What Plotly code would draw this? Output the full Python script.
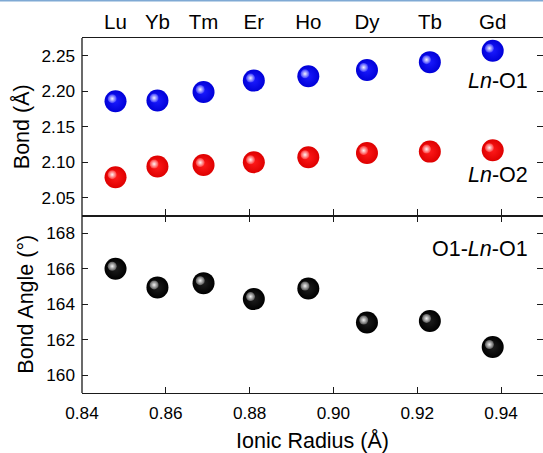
import plotly.graph_objects as go

# ---- data ----
elements = ["Lu", "Yb", "Tm", "Er", "Ho", "Dy", "Tb", "Gd"]
ionic_radius = [0.848, 0.858, 0.869, 0.881, 0.894, 0.908, 0.923, 0.938]
bond_ln_o1 = [2.186, 2.187, 2.199, 2.215, 2.221, 2.230, 2.241, 2.257]
bond_ln_o2 = [2.079, 2.094, 2.096, 2.100, 2.107, 2.113, 2.115, 2.117]
angle_o1_ln_o1 = [166.0, 164.95, 165.19, 164.29, 164.89, 162.97, 163.06, 161.59]

x_range = [0.84, 0.95]
y_top_range = [2.025, 2.275]
y_bot_range = [159, 169]

# ---- style ----
W, H = 543, 453
ML, MR, MT, MB = 82, 0, 38, 60
FONT = "Liberation Sans, Arial, sans-serif"
TICK_FS = 17.2
TITLE_FS = 21.5
LABEL_FS = 21.5
TOP_FS = 20.5
LINE_C = "#1a1a1a"
LW = 1.3
SPHERE = 22
HILITE = 9

plot_w = W - ML - MR
plot_h = H - MT - MB
panel_h = plot_h / 2
# highlight offset (pixels) converted to axis units
hx_px, hy_px = 3.3, 2.5
dx = hx_px * (x_range[1] - x_range[0]) / plot_w
dy_top = hy_px * (y_top_range[1] - y_top_range[0]) / panel_h
dy_bot = hy_px * (y_bot_range[1] - y_bot_range[0]) / panel_h

fig = go.Figure()


def sphere(x, y, edge, center, xa, ya, name):
    fig.add_trace(go.Scatter(
        x=x, y=y, mode="markers", name=name, xaxis=xa, yaxis=ya,
        marker=dict(size=SPHERE, color=edge, line=dict(width=0),
                    gradient=dict(type="radial", color=center)),
        showlegend=False, cliponaxis=False, hoverinfo="x+y"))


def hilite(x, y, base, xa, ya):
    fig.add_trace(go.Scatter(
        x=x, y=y, mode="markers", xaxis=xa, yaxis=ya,
        marker=dict(size=HILITE, color=base, opacity=0.95, line=dict(width=0),
                    gradient=dict(type="radial", color="#ffffff")),
        showlegend=False, cliponaxis=False, hoverinfo="skip"))


# invisible carrier so the top (element) axis gets drawn
fig.add_trace(go.Scatter(x=ionic_radius, y=bond_ln_o1, mode="markers",
                         xaxis="x3", yaxis="y", marker=dict(opacity=0),
                         showlegend=False, hoverinfo="skip"))
# top panel spheres
sphere(ionic_radius, bond_ln_o1, "#0000d8", "#1a1aff", "x", "y", "Ln-O1")
sphere(ionic_radius, bond_ln_o2, "#de0000", "#ff1a1a", "x", "y", "Ln-O2")
# bottom panel spheres
sphere(ionic_radius, angle_o1_ln_o1, "#000000", "#1e1e1e", "x2", "y2", "O1-Ln-O1")
# highlights (on shifted overlay axes)
hilite(ionic_radius, bond_ln_o1, "#3a3aff", "x4", "y3")
hilite(ionic_radius, bond_ln_o2, "#ff3a3a", "x4", "y3")
hilite(ionic_radius, angle_o1_ln_o1, "#5a5a5a", "x5", "y4")

tickfont = dict(family=FONT, size=TICK_FS, color="#000")
common_ax = dict(showgrid=False, zeroline=False, linecolor=LINE_C, linewidth=LW,
                 tickcolor=LINE_C, tickwidth=LW, ticklen=6, tickfont=tickfont)

fig.update_layout(
    width=W, height=H,
    margin=dict(l=ML, r=MR, t=MT, b=MB),
    paper_bgcolor="white", plot_bgcolor="white",
    font=dict(family=FONT, color="#000"),
    showlegend=False,
    # top panel bottom axis (ticks only)
    xaxis=dict(**common_ax, domain=[0, 1], anchor="y", range=x_range, dtick=0.02,
               tick0=0.84, ticks="inside", showticklabels=False, showline=True,
               mirror=False),
    # bottom panel x axis
    xaxis2=dict(**common_ax, domain=[0, 1], anchor="y2", range=x_range, dtick=0.02,
                tick0=0.84, ticks="inside", tickformat=".2f", showline=True,
                mirror="ticks", ticklabelstandoff=4,
                title=dict(text="Ionic Radius (Å)", standoff=14,
                           font=dict(family=FONT, size=TITLE_FS))),
    # top element labels
    xaxis3=dict(overlaying="x", anchor="y", side="top", range=x_range,
                tickmode="array", tickvals=ionic_radius, ticktext=elements,
                ticks="", showline=True, linecolor=LINE_C, linewidth=LW,
                showgrid=False, zeroline=False, ticklabelstandoff=0,
                tickfont=dict(family=FONT, size=TOP_FS, color="#000")),
    xaxis4=dict(overlaying="x", anchor="y", visible=False,
                range=[x_range[0] + dx, x_range[1] + dx]),
    xaxis5=dict(overlaying="x2", anchor="y2", visible=False,
                range=[x_range[0] + dx, x_range[1] + dx]),
    yaxis=dict(**common_ax, domain=[0.5, 1], anchor="x", range=y_top_range,
               dtick=0.05, tick0=2.05, tickformat=".2f", ticks="inside",
               showline=False, mirror="ticks", ticklabelstandoff=6,
               title=dict(text="Bond (Å)", standoff=6,
                          font=dict(family=FONT, size=TITLE_FS))),
    yaxis2=dict(**common_ax, domain=[0, 0.5], anchor="x2", range=y_bot_range,
                dtick=2, tick0=160, ticks="inside", showline=False,
                mirror="ticks", ticklabelstandoff=6,
                title=dict(text="Bond Angle (°)", standoff=6,
                           font=dict(family=FONT, size=TITLE_FS))),
    yaxis3=dict(overlaying="y", anchor="x", visible=False,
                range=[y_top_range[0] - dy_top, y_top_range[1] - dy_top]),
    yaxis4=dict(overlaying="y2", anchor="x2", visible=False,
                range=[y_bot_range[0] - dy_bot, y_bot_range[1] - dy_bot]),
)

# left frame line
fig.add_shape(type="line", xref="paper", yref="paper", x0=0, x1=0, y0=0, y1=1,
              line=dict(color=LINE_C, width=LW), layer="above")
# light blue border at the very top of the picture
top_y = 1 + (MT - 0.8) / plot_h
fig.add_shape(type="line", xref="paper", yref="paper", x0=-ML / plot_w, x1=1,
              y0=top_y, y1=top_y, line=dict(color="#7fa9d4", width=1.6))

label_font = dict(family=FONT, size=LABEL_FS, color="#000")
ax_x = (530 - ML) / plot_w
fig.add_annotation(text="<i>Ln</i>-O1", xref="paper", yref="paper", x=ax_x,
                   y=1 - (81 - MT) / plot_h, xanchor="right", yanchor="middle",
                   showarrow=False, font=label_font)
fig.add_annotation(text="<i>Ln</i>-O2", xref="paper", yref="paper", x=ax_x,
                   y=1 - (175 - MT) / plot_h, xanchor="right", yanchor="middle",
                   showarrow=False, font=label_font)
fig.add_annotation(text="O1-<i>Ln</i>-O1", xref="paper", yref="paper", x=ax_x,
                   y=1 - (249 - MT) / plot_h, xanchor="right", yanchor="middle",
                   showarrow=False, font=label_font)

fig.write_html("out.html")
